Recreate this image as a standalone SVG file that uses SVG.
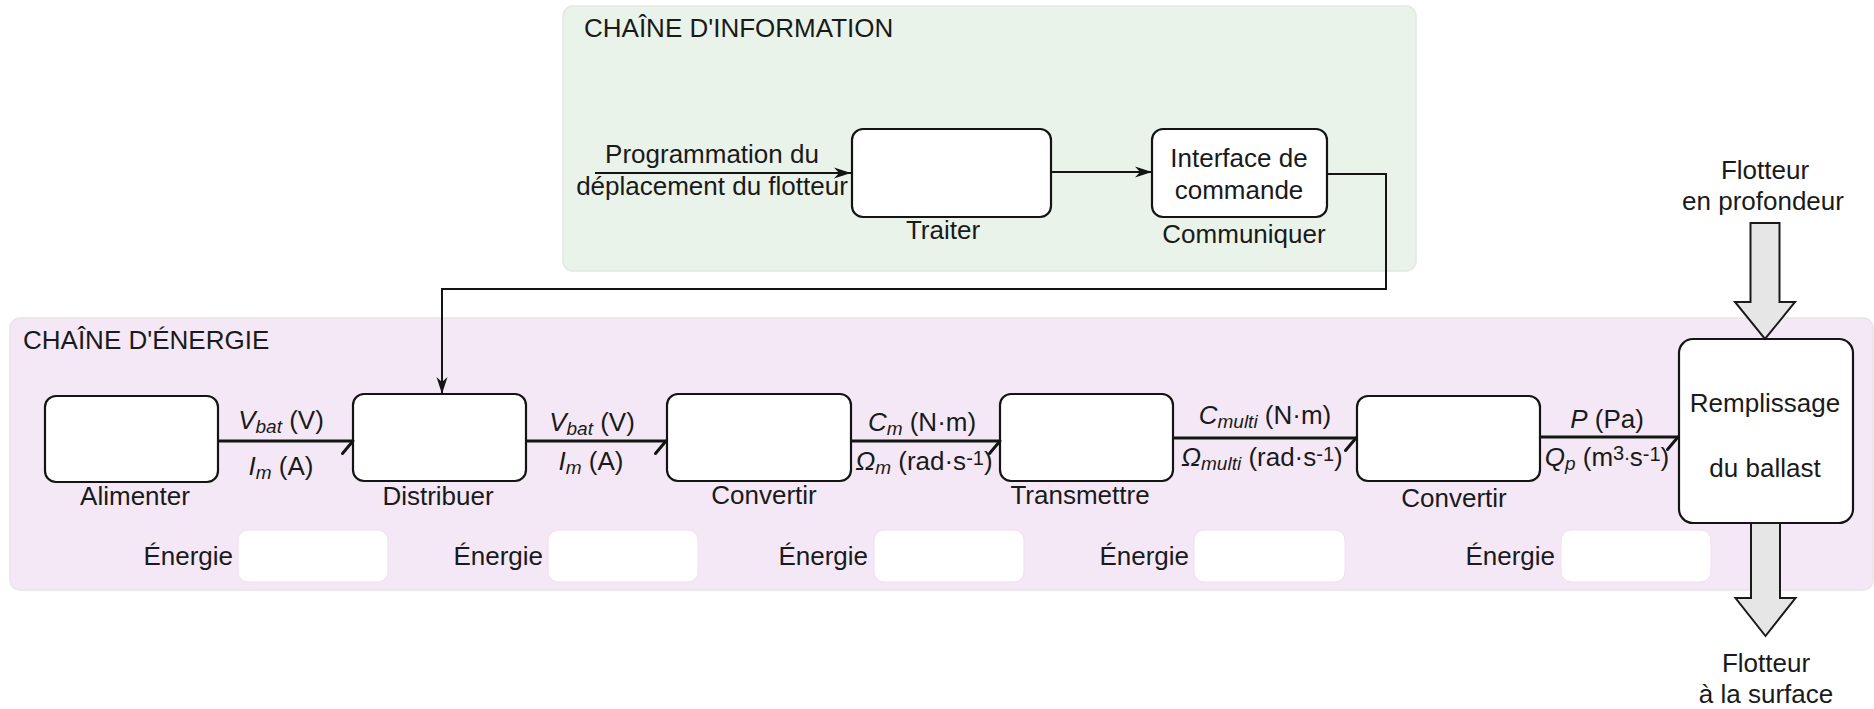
<svg xmlns="http://www.w3.org/2000/svg" width="1874" height="709" viewBox="0 0 1874 709">
<style>
.t{font-family:"Liberation Sans",Arial,sans-serif;font-size:26px;fill:#1a1a1a}
.c{text-anchor:middle}
.e{text-anchor:end}
.i{font-style:italic}
.sub{font-size:19px;font-style:italic}
.sup{font-size:20px}
.box{fill:#fff;stroke:#141414;stroke-width:2.2}
.ebox{fill:#fff;stroke:#f1dcf1;stroke-width:1}
.info{fill:none;stroke:#141414;stroke-width:2}
.pw{fill:none;stroke:#141414;stroke-width:3}
.big{fill:#e6e6e6;stroke:#1a1a1a;stroke-width:2;stroke-linejoin:miter}
</style>
<defs>
<marker id="arr" markerUnits="userSpaceOnUse" markerWidth="20" markerHeight="12" refX="0" refY="0" orient="auto" overflow="visible">
<path d="M0,0 L-17,-5.5 L-12,0 L-17,5.5 Z" fill="#141414"/>
</marker>
<marker id="half" markerUnits="userSpaceOnUse" markerWidth="20" markerHeight="20" refX="0" refY="0" orient="auto" overflow="visible">
<path d="M-10.5,12.5 L0,0" fill="none" stroke="#141414" stroke-width="3" stroke-linecap="round"/>
</marker>
</defs>

<g id="chaine-information">
<rect x="563" y="6" width="853" height="265" rx="10" fill="#e9f3ea" stroke="#e2e8e2" stroke-width="1.5"/>
<text class="t" x="584" y="37">CHAÎNE D'INFORMATION</text>
</g>
<g id="chaine-energie">
<rect x="10" y="318" width="1863" height="272" rx="10" fill="#f5e8f6" stroke="#e8e4e8" stroke-width="1.5"/>
<text class="t" x="23" y="349">CHAÎNE D'ÉNERGIE</text>
</g>

<g id="entree-info">
<text class="t c" x="712" y="163">Programmation du</text>
<text class="t c" x="712" y="195">déplacement du flotteur</text>
</g>
<g id="traiter">
<rect class="box" x="852" y="129" width="199" height="88" rx="11"/>
<text class="t c" x="943" y="239">Traiter</text>
</g>
<g id="communiquer">
<rect class="box" x="1152" y="129" width="175" height="88" rx="11"/>
<text class="t c" x="1239" y="167">Interface de</text>
<text class="t c" x="1239" y="199">commande</text>
<text class="t c" x="1244" y="243">Communiquer</text>
</g>

<g id="alimenter">
<rect class="box" x="45" y="396" width="173" height="86" rx="11"/>
<text class="t c" x="135" y="505">Alimenter</text>
</g>
<g id="distribuer">
<rect class="box" x="353" y="394" width="173" height="87" rx="11"/>
<text class="t c" x="438" y="505">Distribuer</text>
</g>
<g id="convertir1">
<rect class="box" x="667" y="394" width="184" height="87" rx="11"/>
<text class="t c" x="764" y="504">Convertir</text>
</g>
<g id="transmettre">
<rect class="box" x="1000" y="394" width="173" height="87" rx="11"/>
<text class="t c" x="1080" y="504">Transmettre</text>
</g>
<g id="convertir2">
<rect class="box" x="1357" y="396" width="183" height="85" rx="11"/>
<text class="t c" x="1454" y="507">Convertir</text>
</g>
<g id="ballast">
<rect class="box" x="1679" y="339" width="174" height="184" rx="14"/>
<text class="t c" x="1765" y="412">Remplissage</text>
<text class="t c" x="1765" y="477">du ballast</text>
</g>

<g id="energie1">
<text class="t e" x="233" y="565">Énergie</text>
<rect class="ebox" x="238" y="530" width="150" height="52" rx="10"/>
</g>
<g id="energie2">
<text class="t e" x="543" y="565">Énergie</text>
<rect class="ebox" x="548" y="530" width="150" height="52" rx="10"/>
</g>
<g id="energie3">
<text class="t e" x="868" y="565">Énergie</text>
<rect class="ebox" x="874" y="530" width="150" height="52" rx="10"/>
</g>
<g id="energie4">
<text class="t e" x="1189" y="565">Énergie</text>
<rect class="ebox" x="1194" y="530" width="151" height="52" rx="10"/>
</g>
<g id="energie5">
<text class="t e" x="1555" y="565">Énergie</text>
<rect class="ebox" x="1561" y="530" width="150" height="52" rx="10"/>
</g>

<g id="flotteur-profondeur">
<text class="t c" x="1765" y="179">Flotteur</text>
<text class="t c" x="1763" y="210">en profondeur</text>
</g>
<g id="flotteur-surface">
<text class="t c" x="1766" y="672">Flotteur</text>
<text class="t c" x="1766" y="703">à la surface</text>
</g>

<g id="connecteurs">
<path class="info" d="M595,173 H851" marker-end="url(#arr)"/>
<path class="info" d="M1051,172 H1152" marker-end="url(#arr)"/>
<path class="info" d="M1327,174 H1386 V289 H442 V394" marker-end="url(#arr)"/>

<path class="pw" d="M218,441 H353" marker-end="url(#half)"/>
<path class="pw" d="M526,441 H666" marker-end="url(#half)"/>
<path class="pw" d="M851,441 H1000" marker-end="url(#half)"/>
<path class="pw" d="M1173,438 H1356" marker-end="url(#half)"/>
<path class="pw" d="M1540,437 H1678" marker-end="url(#half)"/>

<polygon class="big" points="1750.5,223 1779.5,223 1779.5,302 1795,302 1765,339 1735,302 1750.5,302"/>
<polygon class="big" points="1751,523 1780,523 1780,598 1795.5,598 1765.5,636 1735.5,598 1751,598"/>

<text class="t c" x="281" y="429"><tspan class="i">V</tspan><tspan class="sub" dy="4">bat</tspan><tspan dy="-4"> (V)</tspan></text>
<text class="t c" x="281" y="475"><tspan class="i">I</tspan><tspan class="sub" dy="4">m</tspan><tspan dy="-4"> (A)</tspan></text>
<text class="t c" x="592" y="431"><tspan class="i">V</tspan><tspan class="sub" dy="4">bat</tspan><tspan dy="-4"> (V)</tspan></text>
<text class="t c" x="591" y="470"><tspan class="i">I</tspan><tspan class="sub" dy="4">m</tspan><tspan dy="-4"> (A)</tspan></text>
<text class="t c" x="922" y="431"><tspan class="i">C</tspan><tspan class="sub" dy="4">m</tspan><tspan dy="-4"> (N·m)</tspan></text>
<text class="t c" x="924" y="470"><tspan class="i">Ω</tspan><tspan class="sub" dy="4">m</tspan><tspan dy="-4"> (rad·s</tspan><tspan class="sup" dy="-5">-1</tspan><tspan dy="5">)</tspan></text>
<text class="t c" x="1265" y="424"><tspan class="i">C</tspan><tspan class="sub" dy="4">multi</tspan><tspan dy="-4"> (N·m)</tspan></text>
<text class="t c" x="1262" y="466"><tspan class="i">Ω</tspan><tspan class="sub" dy="4">multi</tspan><tspan dy="-4"> (rad·s</tspan><tspan class="sup" dy="-5">-1</tspan><tspan dy="5">)</tspan></text>
<text class="t c" x="1607" y="428"><tspan class="i">P</tspan> (Pa)</text>
<text class="t c" x="1607" y="466"><tspan class="i">Q</tspan><tspan class="sub" dy="4">p</tspan><tspan dy="-4"> (m</tspan><tspan class="sup" dy="-6">3.</tspan><tspan dy="6">s</tspan><tspan class="sup" dy="-5">-1</tspan><tspan dy="5">)</tspan></text>
</g>
</svg>
